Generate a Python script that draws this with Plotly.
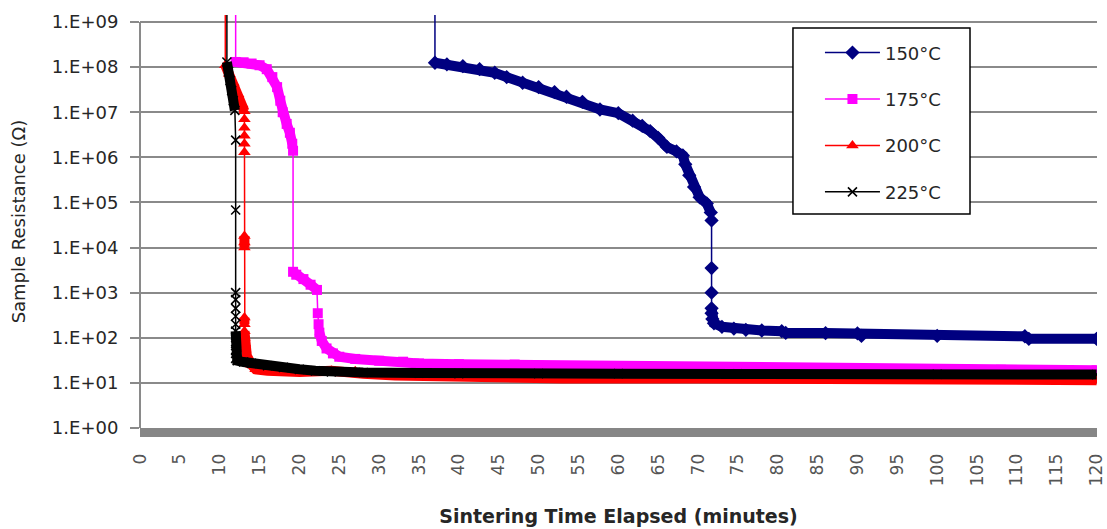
import math
import plotly.graph_objects as go

# ---------------- data ----------------
t150 = [37.0, 37.0, 38.5, 40.5, 42.6, 44.5, 46.0, 48.0, 50.0, 52.0, 53.5, 55.5, 57.7, 60.0,
        61.8, 63.0, 64.0, 65.0, 66.1, 67.3, 68.1, 68.4, 68.9, 69.5, 70.2, 71.1, 71.6, 71.7,
        71.7, 71.7, 71.7, 71.7, 71.8, 72.0, 73.0, 74.5, 76.0, 78.0, 80.5, 81.0, 86.0, 90.0,
        90.5, 100.0, 111.0, 111.5, 120.0]
r150 = [1e10, 1.25e8, 1.15e8, 1.05e8, 9e7, 7.5e7, 6e7, 4.5e7, 3.6e7, 2.8e7, 2.2e7, 1.7e7, 1.15e7, 9.5e6,
        6.5e6, 5e6, 3.8e6, 2.7e6, 1.7e6, 1.35e6, 1.1e6, 7e5, 4e5, 2.2e5, 1.3e5, 9.5e4, 6e4, 4e4,
        3.5e3, 1e3, 4.5e2, 3.5e2, 2.6e2, 2.1e2, 1.75e2, 1.6e2, 1.5e2, 1.45e2, 1.4e2, 1.28e2, 1.27e2, 1.25e2,
        1.1e2, 1.1e2, 1.08e2, 95, 95]

t175 = [12.0, 12.0, 13.0, 14.0, 15.0, 15.9, 16.6, 17.2, 17.6, 17.9, 18.4, 18.8, 19.1, 19.2,
        19.2, 19.6, 20.5, 21.4, 22.2,
        22.3, 22.4, 22.5, 22.8, 23.4, 24.2, 25.0, 27.0, 30.0, 33.0, 35.0, 40.0, 47.0, 50.0,
        60.0, 70.0, 75.0, 90.0, 108.0, 120.0]
r175 = [1e10, 1.3e8, 1.28e8, 1.2e8, 1.1e8, 9e7, 6e7, 3.6e7, 1.8e7, 1e7, 5.5e6, 3.5e6, 2e6, 1.4e6,
        2.9e3, 2.5e3, 2e3, 1.5e3, 1.15e3,
        3.5e2, 2e2, 1.3e2, 85, 58, 45, 38, 34, 31, 29.5, 27, 26, 25.5, 24,
        23.5, 22.5, 21.5, 21, 19.5, 19]

t200 = [10.7, 10.7, 11.2, 11.7, 12.3, 12.8, 13.1,
        13.1, 13.1, 13.1, 13.1, 13.1,
        13.1, 13.1, 13.1,
        13.1, 13.1, 13.1, 13.1, 13.15, 13.2, 13.4, 14.0, 14.5, 16.0, 18.0, 20.0, 24.0, 27.0,
        28.0, 32.0, 38.0, 45.0, 53.0, 70.0, 90.0, 92.0, 120.0]
r200 = [1e10, 1.1e8, 7e7, 4.5e7, 2.5e7, 1.5e7, 1.05e7,
        7e6, 4.5e6, 3e6, 2e6, 1.3e6,
        1.8e4, 1.3e4, 1e4,
        2.8e2, 2e2, 1.4e2, 1e2, 75, 55, 40, 25, 20, 18.5, 17.5, 17.5, 18.5, 18,
        16, 14.5, 13.5, 13, 12.5, 12.5, 12.5, 11.5, 11.5]

t225 = [10.9, 10.9, 11.1, 11.3, 11.5, 11.7, 11.9,
        12.0, 12.0, 12.0, 12.0, 12.0, 12.0, 12.0, 12.0, 12.0, 12.0, 12.0,
        12.0, 12.0, 12.2, 13.0, 14.0, 16.0, 18.0, 20.0, 22.0, 24.0, 28.0, 35.0, 40.0, 50.0,
        60.0, 75.0, 100.0, 120.0]
r225 = [1e10, 1.3e8, 8e7, 5e7, 3e7, 1.8e7, 1.1e7,
        2.4e6, 6.8e4, 1e3, 7e2, 4.5e2, 3e2, 2e2, 1.4e2, 1e2, 75, 55,
        45, 35, 31, 29, 27, 24, 22, 20, 18.5, 17.5, 17, 16.5, 16, 16,
        16, 15.8, 15.5, 15.3]

series_names = ["150°C", "175°C", "200°C", "225°C"]
xtick_vals = list(range(0, 121, 5))
ytick_vals = [10 ** k for k in range(0, 10)]
ytick_text = ["1.E+%02d" % k for k in range(0, 10)]

# ---------------- styling ----------------
colors = ["#000080", "#FF00FF", "#FF0000", "#000000"]
symbols = ["diamond", "square", "triangle-up", "x-thin"]
msizes = [11, 10, 11, 9]
band_w = [10, 10, 10, 10]
FONT = "DejaVu Sans"
GRID = "#8a8a8a"


def band(xs, ys):
    """Dense sampling appears as a thick band; isolated jumps stay thin."""
    bx, by = [xs[0]], [ys[0]]
    for i in range(1, len(xs)):
        dx = abs(xs[i] - xs[i - 1])
        dl = abs(math.log10(ys[i]) - math.log10(ys[i - 1]))
        if dx < 0.15 and dl > 0.15:
            bx.append(None)
            by.append(None)
        bx.append(xs[i])
        by.append(ys[i])
    return bx, by


fig = go.Figure()
data = [(t150, r150), (t175, r175), (t200, r200), (t225, r225)]
for i, (xs, ys) in enumerate(data):
    bx, by = band(xs, ys)
    fig.add_trace(go.Scatter(
        x=bx, y=by, mode="lines", line=dict(color=colors[i], width=band_w[i]),
        legendgroup=series_names[i], showlegend=False, hoverinfo="skip"))
    mk = dict(symbol=symbols[i], size=msizes[i], color=colors[i])
    if symbols[i] == "x-thin":
        mk["line"] = dict(color=colors[i], width=1.6)
    fig.add_trace(go.Scatter(
        x=xs, y=ys, mode="lines+markers", name=series_names[i],
        line=dict(color=colors[i], width=1.5), marker=mk,
        legendgroup=series_names[i]))

YMAX = 9.155
fig.update_layout(
    width=1107, height=529,
    margin=dict(l=140, r=10, t=15, b=101),
    paper_bgcolor="white", plot_bgcolor="white",
    font=dict(family=FONT, size=18, color="#262626"),
    showlegend=True,
    legend=dict(x=0.7105, y=0.953, xanchor="left", yanchor="top",
                bgcolor="rgba(0,0,0,0)", borderwidth=0, itemwidth=55,
                font=dict(family=FONT, size=18, color="#262626"),
                traceorder="grouped", tracegroupgap=20),
    xaxis=dict(range=[0, 120.05], tickmode="array", tickvals=xtick_vals,
               ticktext=[str(v) for v in xtick_vals], tickangle=-90,
               showgrid=False, zeroline=False, ticks="", automargin=False,
               ticklabeloverflow="allow",
               showline=True, linecolor="#868686", linewidth=9,
               ticklabelstandoff=10,
               tickfont=dict(family=FONT, size=17, color="#555555"),
               title=dict(text="<b>Sintering Time Elapsed (minutes)</b>",
                          font=dict(family=FONT, size=19, color="#262626"), standoff=28)),
    yaxis=dict(type="log", range=[0, YMAX], tickmode="array", tickvals=ytick_vals,
               ticktext=ytick_text, ticks="outside", ticklen=9, tickwidth=2,
               tickcolor=GRID, showgrid=True, gridcolor=GRID, gridwidth=2,
               showline=False, zeroline=False, ticklabelstandoff=8, automargin=False,
               tickfont=dict(family=FONT, size=18, color="#262626"),
               title=dict(text="Sample Resistance (Ω)",
                          font=dict(family=FONT, size=18, color="#262626"), standoff=21)),
    shapes=[
        dict(type="line", xref="paper", yref="paper", x0=0, x1=0, y0=0, y1=9 / YMAX,
             line=dict(color=GRID, width=2), layer="above"),
        dict(type="rect", xref="paper", yref="paper", x0=0.6823, x1=0.8673,
             y0=0.518, y1=0.9685, line=dict(color="black", width=1.5),
             fillcolor="white", layer="above"),
    ],
)

fig.write_html("out.html")
